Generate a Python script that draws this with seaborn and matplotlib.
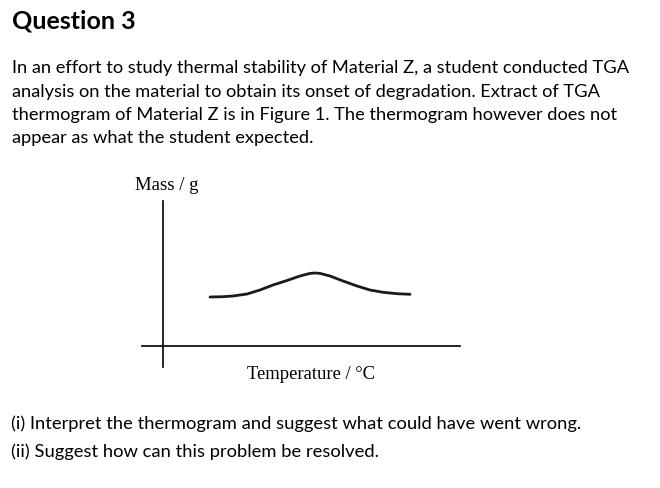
import matplotlib
matplotlib.use('Agg')
import matplotlib.pyplot as plt
import seaborn as sns
import pandas as pd

# Sketched thermogram (arbitrary units)
temperature = [47, 60, 70, 84, 97, 110, 124, 137, 147, 152, 157, 167, 180, 194, 207, 220, 234, 247]
mass = [49, 49.3, 50, 52, 56, 61, 65.5, 70, 72.6, 73, 72.6, 70, 65, 60, 56, 53.7, 52.3, 51.7]

title = 'Question 3'
body_lines = [
    'In an effort to study thermal stability of Material Z, a student conducted TGA',
    'analysis on the material to obtain its onset of degradation. Extract of TGA',
    'thermogram of Material Z is in Figure 1. The thermogram however does not',
    'appear as what the student expected.',
]
questions = [
    '(i) Interpret the thermogram and suggest what could have went wrong.',
    '(ii) Suggest how can this problem be resolved.',
]
y_label = 'Mass / g'
x_label = 'Temperature / °C'

W, H = 660, 488


def fx(x):
    return x / W


def fy(y):
    return 1 - y / H


sns.set_style('white')
fig = plt.figure(figsize=(6.6, 4.88), dpi=100)

body_font = ['Lato', 'DejaVu Sans']
serif_font = ['Liberation Serif', 'DejaVu Serif']

# Header text
fig.text(fx(12), fy(28), title, family=body_font, fontsize=18, fontweight='bold',
         va='baseline', ha='left', color='black')
for i, line in enumerate(body_lines):
    fig.text(fx(12), fy(73 + i * 23.5), line, family=body_font, fontsize=13.15,
             va='baseline', ha='left', color='black')

# Sketch axes: vertical line x 142..460, y 201..367, crossing at (163, 346)
ax = fig.add_axes([fx(142), fy(367), (460 - 142) / W, (367 - 201) / H])
df = pd.DataFrame({'temperature': temperature, 'mass': mass})
sns.lineplot(data=df, x='temperature', y='mass', ax=ax, color='#1a1a1a', lw=2.0)
ax.set_xlim(-21, 297)
ax.set_ylim(-21, 145)
for s in ['top', 'right']:
    ax.spines[s].set_visible(False)
ax.spines['left'].set_position(('data', 0))
ax.spines['bottom'].set_position(('data', 0))
for s in ['left', 'bottom']:
    ax.spines[s].set_color('black')
    ax.spines[s].set_linewidth(1.2)
ax.set_xticks([])
ax.set_yticks([])
ax.set_xlabel('')
ax.set_ylabel('')
ax.patch.set_alpha(0)

fig.text(fx(135), fy(190), y_label, family=serif_font, fontsize=13.5,
         va='baseline', ha='left', color='black')
fig.text(fx(247), fy(379), x_label, family=serif_font, fontsize=13.4,
         va='baseline', ha='left', color='black')

# Questions
for i, line in enumerate(questions):
    fig.text(fx(11), fy(429 + i * 28), line, family=body_font, fontsize=13.2,
             va='baseline', ha='left', color='black')

fig.savefig('out.png', dpi=100)
